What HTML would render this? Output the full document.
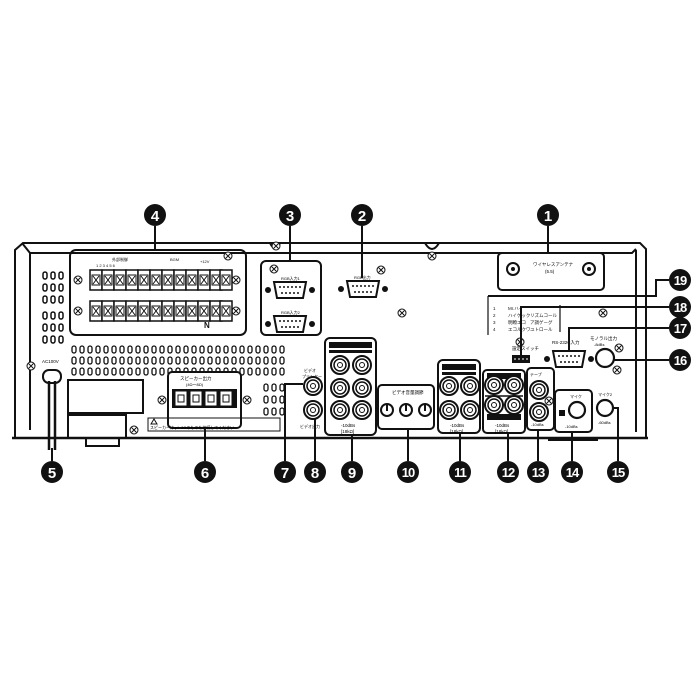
<!DOCTYPE html>
<html><head><meta charset="utf-8"><style>
html,body{margin:0;padding:0;background:#fff;width:700px;height:700px;overflow:hidden}
svg{display:block}
text{font-family:"Liberation Sans","Noto Sans CJK JP",sans-serif}
</style></head><body>
<svg width="700" height="700" viewBox="0 0 700 700" xmlns="http://www.w3.org/2000/svg">
<defs>
<g id="rca"><circle r="9" fill="#fff" stroke="#111" stroke-width="2"/><circle r="6" fill="none" stroke="#111" stroke-width="1.5"/><circle r="2.5" fill="none" stroke="#111" stroke-width="1"/></g>
<g id="scr"><circle r="4" fill="#fff" stroke="#111" stroke-width="1"/><path d="M-2.5,-2.5L2.5,2.5M-2.5,2.5L2.5,-2.5" stroke="#111" stroke-width="1"/></g>
<g id="db"><circle cx="-22" r="3" fill="#111"/><circle cx="22" r="3" fill="#111"/><path d="M-16,-8h32l-3,16h-26z" fill="#fff" stroke="#111" stroke-width="2"/><path d="M-11,-3h22M-9,3h18" stroke="#111" stroke-width="1.5" stroke-dasharray="2 2"/></g>
<g id="term"><rect x="-6" y="-10" width="12" height="20" fill="#fff" stroke="#111" stroke-width="1.5"/><rect x="-4" y="-5" width="8" height="10" fill="none" stroke="#111"/><path d="M-3,-4L3,4M-3,4L3,-4" stroke="#111"/></g>
</defs>
<g fill="none" stroke="#111" stroke-width="2">
<path d="M15,438V250l8,-7H640l6,6V438"/>
<path d="M30,253H632l4,-4M30,253V430M22,243l8,10"/>
<path d="M636,250V432"/>
<path d="M12,438H648" stroke-width="2.5"/>
<path d="M270,243q5,10 10,0M425,243q7,12 14,0"/>
</g>
<use href="#scr" x="276" y="246"/><use href="#scr" x="432" y="256"/><use href="#scr" x="402" y="313"/><use href="#scr" x="381" y="270"/>
<g fill="none" stroke="#111" stroke-width="1.5">
<g id="v1"><rect x="43" y="272" width="4" height="7" rx="2"/><rect x="51" y="272" width="4" height="7" rx="2"/><rect x="59" y="272" width="4" height="7" rx="2"/></g>
<use href="#v1" y="12"/><use href="#v1" y="24"/><use href="#v1" y="40"/><use href="#v1" y="52"/><use href="#v1" y="64"/>
</g>
<g fill="none" stroke="#111" stroke-width="1.3" id="vr">
<rect x="72" y="346" width="4" height="7" rx="2"/><rect x="80" y="346" width="4" height="7" rx="2"/><rect x="88" y="346" width="4" height="7" rx="2"/><rect x="96" y="346" width="4" height="7" rx="2"/><rect x="104" y="346" width="4" height="7" rx="2"/><rect x="112" y="346" width="4" height="7" rx="2"/><rect x="120" y="346" width="4" height="7" rx="2"/><rect x="128" y="346" width="4" height="7" rx="2"/><rect x="136" y="346" width="4" height="7" rx="2"/><rect x="144" y="346" width="4" height="7" rx="2"/><rect x="152" y="346" width="4" height="7" rx="2"/><rect x="160" y="346" width="4" height="7" rx="2"/><rect x="168" y="346" width="4" height="7" rx="2"/><rect x="176" y="346" width="4" height="7" rx="2"/><rect x="184" y="346" width="4" height="7" rx="2"/><rect x="192" y="346" width="4" height="7" rx="2"/><rect x="200" y="346" width="4" height="7" rx="2"/><rect x="208" y="346" width="4" height="7" rx="2"/><rect x="216" y="346" width="4" height="7" rx="2"/><rect x="224" y="346" width="4" height="7" rx="2"/><rect x="232" y="346" width="4" height="7" rx="2"/><rect x="240" y="346" width="4" height="7" rx="2"/><rect x="248" y="346" width="4" height="7" rx="2"/><rect x="256" y="346" width="4" height="7" rx="2"/><rect x="264" y="346" width="4" height="7" rx="2"/><rect x="272" y="346" width="4" height="7" rx="2"/><rect x="280" y="346" width="4" height="7" rx="2"/>
</g>
<use href="#vr" y="11"/><use href="#vr" y="22"/>
<g fill="none" stroke="#111" stroke-width="1.3">
<rect x="264" y="384" width="4" height="7" rx="2"/><rect x="272" y="384" width="4" height="7" rx="2"/><rect x="280" y="384" width="4" height="7" rx="2"/>
<rect x="264" y="396" width="4" height="7" rx="2"/><rect x="272" y="396" width="4" height="7" rx="2"/><rect x="280" y="396" width="4" height="7" rx="2"/>
<rect x="264" y="408" width="4" height="7" rx="2"/><rect x="272" y="408" width="4" height="7" rx="2"/><rect x="280" y="408" width="4" height="7" rx="2"/>
</g>
<rect x="70" y="250" width="176" height="85" rx="6" fill="none" stroke="#111" stroke-width="2"/>
<use href="#scr" x="78" y="280"/><use href="#scr" x="236" y="280"/><use href="#scr" x="78" y="311"/><use href="#scr" x="236" y="311"/><use href="#scr" x="228" y="256"/>
<g>
<use href="#term" x="96" y="280"/><use href="#term" x="108" y="280"/><use href="#term" x="120" y="280"/><use href="#term" x="132" y="280"/><use href="#term" x="144" y="280"/><use href="#term" x="156" y="280"/><use href="#term" x="168" y="280"/><use href="#term" x="180" y="280"/><use href="#term" x="192" y="280"/><use href="#term" x="204" y="280"/><use href="#term" x="216" y="280"/><use href="#term" x="226" y="280"/>
<use href="#term" x="96" y="311"/><use href="#term" x="108" y="311"/><use href="#term" x="120" y="311"/><use href="#term" x="132" y="311"/><use href="#term" x="144" y="311"/><use href="#term" x="156" y="311"/><use href="#term" x="168" y="311"/><use href="#term" x="180" y="311"/><use href="#term" x="192" y="311"/><use href="#term" x="204" y="311"/><use href="#term" x="216" y="311"/><use href="#term" x="226" y="311"/>
</g>
<g font-size="4" fill="#111"><text x="112" y="261">外部制御</text><text x="170" y="261">BGM</text><text x="200" y="263">+12V</text>
<text x="96" y="267">1  2  3  4  5  6</text><text x="204" y="328" font-size="8" font-weight="bold">N</text></g>
<rect x="261" y="261" width="60" height="74" rx="5" fill="none" stroke="#111" stroke-width="2"/>
<use href="#scr" x="274" y="269"/>
<text x="281" y="280" font-size="4">RGB入力1</text><use href="#db" x="290" y="290"/>
<text x="281" y="314" font-size="4">RGB入力2</text><use href="#db" x="290" y="324"/>
<text x="354" y="279" font-size="4">RGB出力</text><use href="#db" x="363" y="289"/>
<rect x="498" y="253" width="106" height="37" rx="4" fill="none" stroke="#111" stroke-width="2"/>
<g fill="#fff" stroke="#111" stroke-width="2"><circle cx="513" cy="269" r="6"/><circle cx="589" cy="269" r="6"/></g>
<circle cx="513" cy="269" r="2" fill="#111"/><circle cx="589" cy="269" r="2" fill="#111"/>
<text x="533" y="266" font-size="4.5">ワイヤレスアンテナ</text><text x="545" y="273" font-size="4.5">(5.5)</text>
<g fill="none" stroke="#111" stroke-width="1.2"><path d="M488,296V335M496,296H605M560,305V332M493,296H575"/></g>
<g font-size="4.5" fill="#111"><text x="493" y="310">1</text><text x="493" y="317">2</text><text x="493" y="324">3</text><text x="493" y="331">4</text>
<text x="508" y="310">Mr.ハイ</text><text x="508" y="317">ハイゲック</text><text x="508" y="324">明瞭エコ</text><text x="508" y="331">エコルクワ</text>
<text x="530" y="317">リズムコール</text><text x="530" y="324">ア調ゲーグ</text><text x="530" y="331">ユトロール</text></g>
<use href="#scr" x="603" y="313"/><use href="#scr" x="520" y="342"/>
<text x="512" y="350" font-size="4.5">設定スイッチ</text><rect x="512" y="355" width="18" height="8" fill="#111"/><path d="M514,359h14" stroke="#fff" stroke-dasharray="2 2"/>
<text x="552" y="344" font-size="4.5">RS-232C入力</text><use href="#db" x="569" y="359"/>
<text x="590" y="340" font-size="4.5">モノラル出力</text><text x="594" y="346" font-size="4">-8dBs</text>
<circle cx="605" cy="358" r="9" fill="#fff" stroke="#111" stroke-width="2.2"/><use href="#scr" x="619" y="348"/>
<use href="#scr" x="617" y="370"/>
<!-- AC -->
<use href="#scr" x="31" y="366"/>
<text x="42" y="363" font-size="4.5">AC100V</text>
<rect x="43" y="370" width="18" height="13" rx="6" fill="#fff" stroke="#111" stroke-width="2"/>
<path d="M49,381V450M55,381V450" stroke="#111" stroke-width="2.5" fill="none"/>
<g fill="none" stroke="#111" stroke-width="2"><rect x="68" y="380" width="75" height="33"/><rect x="68" y="415" width="58" height="23"/><path d="M86,438v8h33v-8"/></g>
<use href="#scr" x="134" y="430"/>
<rect x="168" y="372" width="73" height="56" rx="4" fill="#fff" stroke="#111" stroke-width="2"/>
<text x="180" y="380" font-size="4.5">スピーカー出力</text><text x="186" y="386" font-size="4">(4Ω～8Ω)</text>
<rect x="172" y="389" width="65" height="19" fill="#111"/>
<g fill="#fff" stroke="#111"><rect x="175" y="391" width="12" height="15"/><rect x="190" y="391" width="12" height="15"/><rect x="205" y="391" width="12" height="15"/><rect x="220" y="391" width="12" height="15"/></g>
<g fill="none" stroke="#111"><rect x="178" y="395" width="6" height="7"/><rect x="193" y="395" width="6" height="7"/><rect x="208" y="395" width="6" height="7"/><rect x="223" y="395" width="6" height="7"/></g>
<use href="#scr" x="162" y="400"/><use href="#scr" x="247" y="400"/>
<rect x="148" y="418" width="132" height="13" fill="none" stroke="#111" stroke-width="1"/>
<text x="150" y="429" font-size="4">スピーカーはφ4~8Ωのものを接続してください</text>
<path d="M151,424l3,-5l3,5z" fill="none" stroke="#111"/>
<text x="304" y="372" font-size="4">ビデオ</text><text x="302" y="378" font-size="4">プリンター</text>
<use href="#rca" x="313" y="386"/><use href="#rca" x="313" y="410"/>
<text x="300" y="428" font-size="4">ビデオ出力</text>
<rect x="325" y="338" width="51" height="97" rx="5" fill="none" stroke="#111" stroke-width="2"/>
<rect x="329" y="342" width="43" height="6" fill="#111"/><rect x="329" y="350" width="43" height="3" fill="#111"/>
<use href="#rca" x="340" y="365"/><use href="#rca" x="362" y="365"/><use href="#rca" x="340" y="388"/><use href="#rca" x="362" y="388"/><use href="#rca" x="340" y="410"/><use href="#rca" x="362" y="410"/>
<text x="341" y="427" font-size="4.5">-10dBs</text><text x="341" y="433" font-size="4.5">[18kΩ]</text>
<rect x="378" y="385" width="56" height="44" rx="4" fill="none" stroke="#111" stroke-width="2"/>
<text x="392" y="394" font-size="4.5">ビデオ音量調節</text>
<g><circle cx="387" cy="410" r="6" fill="#fff" stroke="#111" stroke-width="2"/><circle cx="406" cy="410" r="6" fill="#fff" stroke="#111" stroke-width="2"/><circle cx="425" cy="410" r="6" fill="#fff" stroke="#111" stroke-width="2"/>
<path d="M387,405v6M406,405v6M425,405v6" stroke="#111" stroke-width="2"/></g>
<rect x="438" y="360" width="42" height="73" rx="5" fill="none" stroke="#111" stroke-width="2"/>
<rect x="442" y="364" width="34" height="6" fill="#111"/><rect x="442" y="372" width="34" height="3" fill="#111"/>
<use href="#rca" x="449" y="386"/><use href="#rca" x="470" y="386"/><use href="#rca" x="449" y="410"/><use href="#rca" x="470" y="410"/>
<text x="450" y="427" font-size="4.5">-10dBs</text><text x="450" y="433" font-size="4.5">[18kΩ]</text>
<rect x="483" y="370" width="42" height="63" rx="4" fill="none" stroke="#111" stroke-width="2"/>
<rect x="487" y="373" width="34" height="6" fill="#111"/>
<use href="#rca" x="494" y="385"/><use href="#rca" x="514" y="385"/>
<path d="M485,396H523" stroke="#111" stroke-width="1.5"/>
<use href="#rca" x="494" y="405"/><use href="#rca" x="514" y="405"/>
<rect x="487" y="414" width="34" height="6" fill="#111"/>
<text x="495" y="427" font-size="4.5">-10dBs</text><text x="495" y="433" font-size="4.5">[18kΩ]</text>
<rect x="527" y="368" width="27" height="62" rx="4" fill="none" stroke="#111" stroke-width="2"/>
<text x="530" y="376" font-size="4">テープ</text>
<use href="#rca" x="539" y="390"/><use href="#rca" x="539" y="412"/><use href="#scr" x="549" y="401"/>
<text x="531" y="426" font-size="4">-10dBs</text>
<rect x="555" y="390" width="37" height="42" rx="4" fill="none" stroke="#111" stroke-width="2"/>
<circle cx="577" cy="410" r="8" fill="#fff" stroke="#111" stroke-width="2.2"/>
<rect x="559" y="410" width="6" height="6" fill="#111"/>
<text x="570" y="398" font-size="4">マイク</text><text x="565" y="428" font-size="4">-10dBs</text>
<circle cx="605" cy="408" r="8" fill="#fff" stroke="#111" stroke-width="2.2"/>
<text x="598" y="396" font-size="4">マイク2</text><text x="598" y="424" font-size="4">-60dBs</text>
<g fill="none" stroke="#111" stroke-width="2">
<path d="M155,226V250"/><path d="M290,226V261"/><path d="M362,226V278"/><path d="M548,226V253"/>
<path d="M52,448V461"/><path d="M205,428V461"/>
<path d="M285,461V384H303"/><path d="M315,461V419"/><path d="M352,435V461"/><path d="M408,429V461"/><path d="M460,433V461"/><path d="M508,433V461"/><path d="M538,430V461"/>
<path d="M572,432V461"/><path d="M618,461V408H613"/>
<path d="M669,360H614"/><path d="M669,328H569V351"/><path d="M669,307H521V355"/><path d="M669,280H656V296H488"/>
<path d="M548,440H598"/>
</g>
<g font-family="Liberation Sans,sans-serif" font-weight="bold" font-size="15" fill="#fff" text-anchor="middle">
<g fill="#111"><circle cx="548" cy="215" r="11"/><circle cx="362" cy="215" r="11"/><circle cx="290" cy="215" r="11"/><circle cx="155" cy="215" r="11"/>
<circle cx="52" cy="472" r="11"/><circle cx="205" cy="472" r="11"/><circle cx="285" cy="472" r="11"/><circle cx="315" cy="472" r="11"/><circle cx="352" cy="472" r="11"/><circle cx="408" cy="472" r="11"/><circle cx="460" cy="472" r="11"/><circle cx="508" cy="472" r="11"/><circle cx="538" cy="472" r="11"/><circle cx="572" cy="472" r="11"/><circle cx="618" cy="472" r="11"/>
<circle cx="680" cy="360" r="11"/><circle cx="680" cy="328" r="11"/><circle cx="680" cy="307" r="11"/><circle cx="680" cy="280" r="11"/></g>
<text x="548" y="221">1</text><text x="362" y="221">2</text><text x="290" y="221">3</text><text x="155" y="221">4</text>
<text x="52" y="478">5</text><text x="205" y="478">6</text><text x="285" y="478">7</text><text x="315" y="478">8</text><text x="352" y="478">9</text>
<g font-size="13" letter-spacing="-1"><text x="408" y="477">10</text><text x="460" y="477">11</text><text x="508" y="477">12</text><text x="538" y="477">13</text><text x="572" y="477">14</text><text x="618" y="477">15</text>
<text x="680" y="365">16</text><text x="680" y="333">17</text><text x="680" y="312">18</text><text x="680" y="285">19</text></g>
</g>
</svg>
</body></html>
